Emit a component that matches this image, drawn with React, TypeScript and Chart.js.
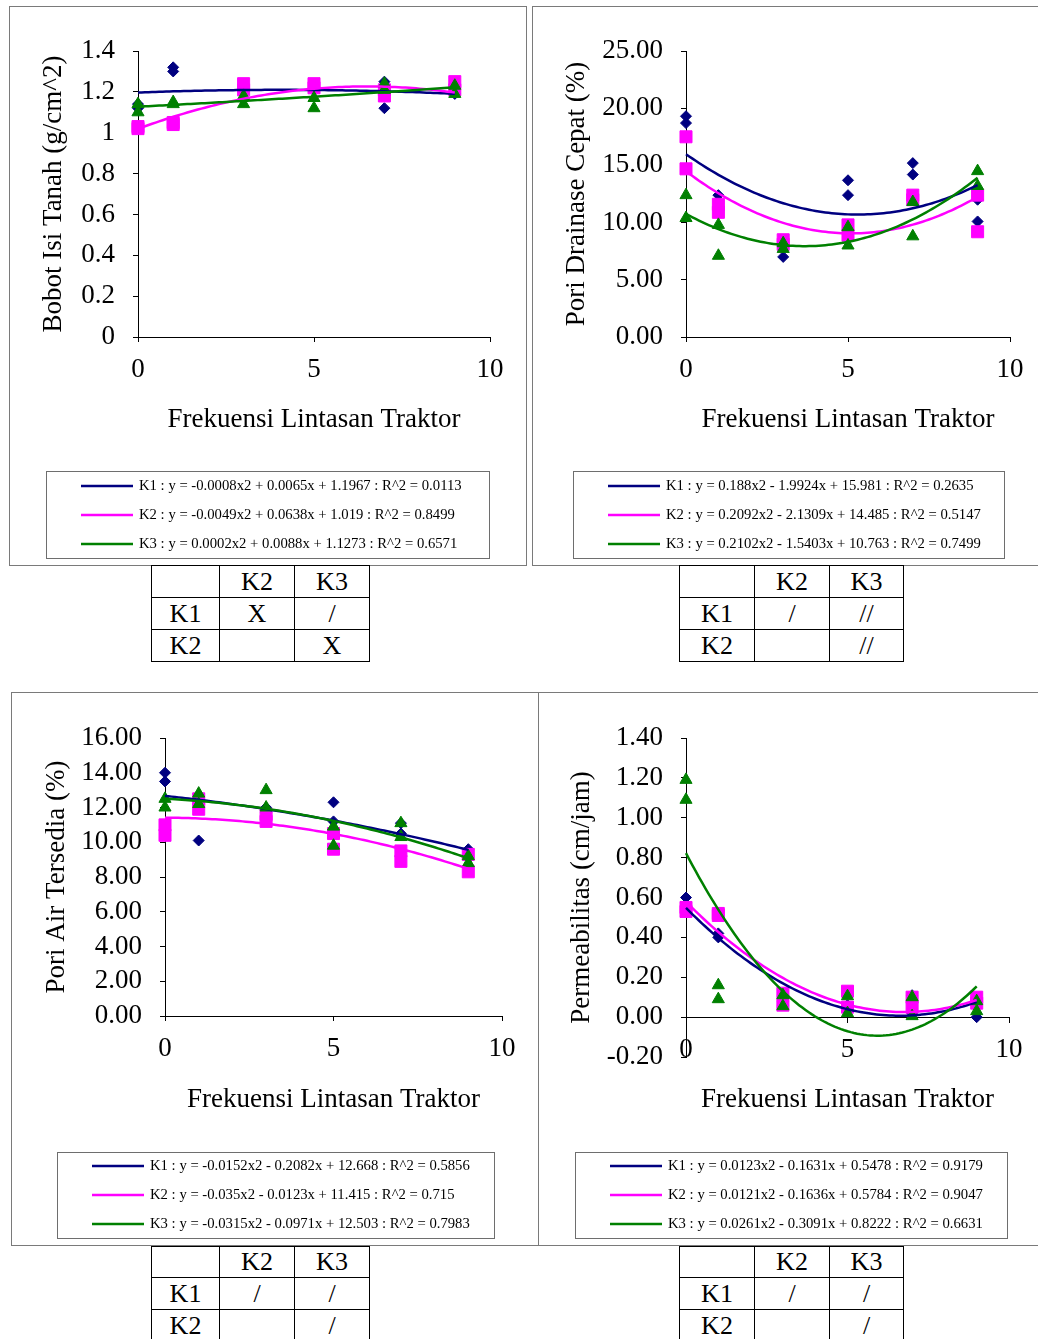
import React, { useEffect, useRef } from "react";
import { Chart, registerables } from "chart.js";
Chart.register(...registerables);

const FONT = '"Liberation Serif", "Times New Roman", Times, serif';
const NAVY = "#000080";
const MAGENTA = "#FF00FF";
const GREEN = "#008000";
const AXIS_FONT_SIZE = 27;
const LEGEND_FONT_SIZE = 14.7;
const TABLE_FONT_SIZE = 26;

// ---------- data ----------
const frekuensi = [0, 0, 1, 1, 3, 3, 5, 5, 7, 7, 9, 9];
const xTickValues = [0, 5, 10];
const xTickLabels = ["0", "5", "10"];
const xTitle = "Frekuensi Lintasan Traktor";

// Bobot Isi Tanah
const bobotK1 = [1.14, 1.12, 1.32, 1.3, 1.21, 1.2, 1.22, 1.21, 1.25, 1.12, 1.19, 1.21];
const bobotK2 = [1.03, 1.02, 1.05, 1.04, 1.24, 1.21, 1.24, 1.22, 1.21, 1.18, 1.25, 1.21];
const bobotK3 = [1.14, 1.1, 1.15, 1.14, 1.18, 1.14, 1.17, 1.12, 1.24, 1.21, 1.23, 1.19];
const bobotCoefK1 = [-0.0008, 0.0065, 1.1967];
const bobotCoefK2 = [-0.0049, 0.0638, 1.019];
const bobotCoefK3 = [0.0002, 0.0088, 1.1273];
const bobotYTicks = [0, 0.2, 0.4, 0.6, 0.8, 1, 1.2, 1.4];
const bobotYLabels = ["0", "0.2", "0.4", "0.6", "0.8", "1", "1.2", "1.4"];
const bobotLegend = [
  "K1 : y = -0.0008x2 + 0.0065x + 1.1967 : R^2 = 0.0113",
  "K2 : y = -0.0049x2 + 0.0638x + 1.019 : R^2 = 0.8499",
  "K3 : y = 0.0002x2 + 0.0088x + 1.1273 : R^2 = 0.6571",
];

// Pori Drainase Cepat
const drainaseK1 = [19.3, 18.7, 12.4, 11.3, 7.0, 7.8, 13.7, 12.4, 15.2, 14.2, 12.0, 10.1];
const drainaseK2 = [17.5, 14.7, 11.6, 10.9, 8.5, 8.1, 9.8, 8.9, 12.4, 12.0, 12.4, 9.2];
const drainaseK3 = [12.4, 10.4, 9.8, 7.1, 8.2, 7.7, 9.6, 8.0, 11.8, 8.8, 14.5, 13.2];
const drainaseCoefK1 = [0.188, -1.9924, 15.981];
const drainaseCoefK2 = [0.2092, -2.1309, 14.485];
const drainaseCoefK3 = [0.2102, -1.5403, 10.763];
const drainaseYTicks = [0, 5, 10, 15, 20, 25];
const drainaseYLabels = ["0.00", "5.00", "10.00", "15.00", "20.00", "25.00"];
const drainaseLegend = [
  "K1 : y = 0.188x2 - 1.9924x + 15.981 : R^2 = 0.2635",
  "K2 : y = 0.2092x2 - 2.1309x + 14.485 : R^2 = 0.5147",
  "K3 : y = 0.2102x2 - 1.5403x + 10.763 : R^2 = 0.7499",
];

// Pori Air Tersedia
const airK1 = [14.0, 13.5, 10.1, 12.4, 12.0, 11.7, 12.3, 11.2, 11.1, 10.5, 9.6, 9.1];
const airK2 = [11.0, 10.4, 12.5, 11.9, 11.6, 11.2, 10.5, 9.6, 9.5, 8.9, 9.3, 8.3];
const airK3 = [12.5, 12.0, 12.8, 12.2, 13.0, 12.0, 10.9, 9.8, 11.1, 10.3, 9.2, 8.8];
const airCoefK1 = [-0.0152, -0.2082, 12.668];
const airCoefK2 = [-0.035, -0.0123, 11.415];
const airCoefK3 = [-0.0315, -0.0971, 12.503];
const airYTicks = [0, 2, 4, 6, 8, 10, 12, 14, 16];
const airYLabels = ["0.00", "2.00", "4.00", "6.00", "8.00", "10.00", "12.00", "14.00", "16.00"];
const airLegend = [
  "K1 : y = -0.0152x2 - 0.2082x + 12.668 : R^2 = 0.5856",
  "K2 : y = -0.035x2 - 0.0123x + 11.415 : R^2 = 0.715",
  "K3 : y = -0.0315x2 - 0.0971x + 12.503 : R^2 = 0.7983",
];

// Permeabilitas
const permK1 = [0.6, 0.54, 0.42, 0.4, 0.08, 0.06, 0.06, 0.03, 0.11, 0.02, 0.07, 0.0];
const permK2 = [0.55, 0.53, 0.52, 0.51, 0.12, 0.06, 0.13, 0.05, 0.1, 0.05, 0.1, 0.07];
const permK3 = [1.19, 1.09, 0.16, 0.09, 0.11, 0.055, 0.105, 0.02, 0.1, 0.005, 0.08, 0.03];
const permCoefK1 = [0.0123, -0.1631, 0.5478];
const permCoefK2 = [0.0121, -0.1636, 0.5784];
const permCoefK3 = [0.0261, -0.3091, 0.8222];
const permYTicks = [-0.2, 0, 0.2, 0.4, 0.6, 0.8, 1.0, 1.2, 1.4];
const permYLabels = ["-0.20", "0.00", "0.20", "0.40", "0.60", "0.80", "1.00", "1.20", "1.40"];
const permLegend = [
  "K1 : y = 0.0123x2 - 0.1631x + 0.5478 : R^2 = 0.9179",
  "K2 : y = 0.0121x2 - 0.1636x + 0.5784 : R^2 = 0.9047",
  "K3 : y = 0.0261x2 - 0.3091x + 0.8222 : R^2 = 0.6631",
];

// significance tables
const tableHeader = ["", "K2", "K3"];
const tableRows = ["K1", "K2"];
const bobotTable = [["X", "/"], ["", "X"]];
const drainaseTable = [["/", "//"], ["", "//"]];
const airTable = [["/", "/"], ["", "/"]];
const permTable = [["/", "/"], ["", "/"]];

// ---------- helpers ----------
function trendCurve(c: number[]) {
  const pts: { x: number; y: number }[] = [];
  for (let i = 0; i <= 90; i++) {
    const x = i / 10;
    pts.push({ x, y: c[0] * x * x + c[1] * x + c[2] });
  }
  return pts;
}

function zeroPad(s: any) {
  s.paddingLeft = 0;
  s.paddingRight = 0;
  s.paddingTop = 0;
  s.paddingBottom = 0;
}

type Spec = {
  w: number;
  h: number;
  yTitle: string;
  yTicks: number[];
  yLabels: string[];
  yMin: number;
  yMax: number;
  yWidth: number;
  yTitleCenter: number;
  padTop: number;
  padRight: number;
  xHeight: number;
  xTitleCenter: number;
  xAtZero?: boolean;
  series: { values: number[]; coef: number[]; color: string; style: string; radius: number }[];
  legend: { x: number; y: number; w: number; h: number; rows: number[]; labels: string[] };
};

function legendPlugin(spec: Spec) {
  return {
    id: "boxLegend",
    afterDraw(chart: any) {
      const ctx = chart.ctx;
      const L = spec.legend;
      ctx.save();
      ctx.strokeStyle = "#6e6e6e";
      ctx.lineWidth = 1;
      ctx.strokeRect(L.x + 0.5, L.y + 0.5, L.w, L.h);
      L.labels.forEach((label, i) => {
        const y = L.y + L.rows[i];
        ctx.strokeStyle = spec.series[i].color;
        ctx.lineWidth = 2.5;
        ctx.beginPath();
        ctx.moveTo(L.x + 35, y);
        ctx.lineTo(L.x + 87, y);
        ctx.stroke();
        ctx.fillStyle = "#000";
        ctx.font = `${LEGEND_FONT_SIZE}px ${FONT}`;
        ctx.textAlign = "left";
        ctx.textBaseline = "middle";
        ctx.fillText(label, L.x + 93, y);
      });
      ctx.restore();
    },
  };
}

function buildConfig(spec: Spec): any {
  const datasets: any[] = [];
  const lineOrder = [2, 1, 0];
  const pointOrder = [5, 4, 3];
  const names = ["K1", "K2", "K3"];
  spec.series.forEach((s, i) => {
    datasets.push({
      label: names[i] + " trend",
      data: trendCurve(s.coef),
      showLine: true,
      borderColor: s.color,
      borderWidth: 2.5,
      pointRadius: 0,
      fill: false,
      tension: 0,
      order: lineOrder[i],
      clip: false,
    });
  });
  spec.series.forEach((s, i) => {
    datasets.push({
      label: names[i],
      data: frekuensi.map((x, j) => ({ x, y: s.values[j] })),
      showLine: false,
      pointStyle: s.style,
      pointRadius: s.radius,
      backgroundColor: s.color,
      borderColor: s.color,
      borderWidth: 1,
      order: pointOrder[i],
      clip: false,
    });
  });

  const tickFont = { family: FONT, size: AXIS_FONT_SIZE };
  const halfLine = (AXIS_FONT_SIZE * 1.2) / 2;
  const xTitlePadBottom = spec.h - spec.xTitleCenter - halfLine;
  const xTitleOpts = {
    display: true,
    text: xTitle,
    font: tickFont,
    color: "#000",
    padding: { top: 0, bottom: xTitlePadBottom },
  };
  const scales: any = {
    x: {
      type: "linear",
      min: 0,
      max: 10,
      position: spec.xAtZero ? { y: 0 } : "bottom",
      afterBuildTicks: (s: any) => {
        s.ticks = xTickValues.map((v) => ({ value: v }));
      },
      ticks: {
        callback: (_v: any, i: number) => xTickLabels[i],
        font: tickFont,
        color: "#000",
        padding: 11.5,
        maxRotation: 0,
        autoSkip: false,
      },
      grid: { drawOnChartArea: false, drawTicks: true, tickLength: 5, color: "#000" },
      border: { display: true, color: "#000", width: 1 },
      title: spec.xAtZero ? { display: false } : xTitleOpts,
      afterFit: (s: any) => {
        if (!spec.xAtZero) s.height = spec.xHeight;
        zeroPad(s);
      },
    },
    y: {
      type: "linear",
      min: spec.yMin,
      max: spec.yMax,
      position: "left",
      afterBuildTicks: (s: any) => {
        s.ticks = spec.yTicks.map((v) => ({ value: v }));
      },
      ticks: {
        callback: (_v: any, i: number) => spec.yLabels[i],
        font: tickFont,
        color: "#000",
        padding: 18,
        autoSkip: false,
      },
      grid: { drawOnChartArea: false, drawTicks: true, tickLength: 5, color: "#000" },
      border: { display: true, color: "#000", width: 1 },
      title: {
        display: true,
        text: spec.yTitle,
        font: tickFont,
        color: "#000",
        padding: { top: spec.yTitleCenter - halfLine, bottom: 0 },
      },
      afterFit: (s: any) => {
        s.width = spec.yWidth;
        zeroPad(s);
      },
    },
  };
  if (spec.xAtZero) {
    scales.xt = {
      type: "linear",
      min: 0,
      max: 10,
      position: "bottom",
      ticks: { display: false },
      grid: { display: false },
      border: { display: false },
      title: xTitleOpts,
      afterFit: (s: any) => {
        s.height = spec.xHeight;
        zeroPad(s);
      },
    };
  }

  return {
    type: "scatter",
    data: { datasets },
    options: {
      responsive: false,
      animation: false,
      events: [],
      layout: { padding: { left: 0, top: spec.padTop, right: spec.padRight, bottom: 0 } },
      plugins: { legend: { display: false }, tooltip: { enabled: false } },
      scales,
    },
    plugins: [legendPlugin(spec)],
  };
}

function ChartCanvas({ spec }: { spec: Spec }) {
  const ref = useRef<HTMLCanvasElement | null>(null);
  useEffect(() => {
    if (!ref.current) return;
    const chart = new Chart(ref.current, buildConfig(spec));
    return () => chart.destroy();
  }, [spec]);
  return (
    <canvas
      ref={ref}
      width={spec.w}
      height={spec.h}
      style={{ position: "absolute", left: 0, top: 0, width: spec.w, height: spec.h, display: "block" }}
    />
  );
}

function Panel({ left, top, width, height, spec }: any) {
  return (
    <div
      style={{
        position: "absolute",
        left,
        top,
        width,
        height,
        boxSizing: "border-box",
        border: "1px solid #7a7a7a",
        background: "#fff",
      }}
    >
      <ChartCanvas spec={spec} />
    </div>
  );
}

function SigTable({ cols, rows, marks }: { cols: number[]; rows: number[]; marks: string[][] }) {
  const cells: any[] = [];
  for (let r = 0; r < 3; r++) {
    for (let c = 0; c < 3; c++) {
      let text = "";
      if (r === 0) text = tableHeader[c];
      else if (c === 0) text = tableRows[r - 1];
      else text = marks[r - 1][c - 1];
      cells.push(
        <div
          key={r + "-" + c}
          style={{
            position: "absolute",
            left: cols[c],
            top: rows[r],
            width: cols[c + 1] - cols[c] + 1,
            height: rows[r + 1] - rows[r] + 1,
            boxSizing: "border-box",
            border: "1px solid #000",
            display: "flex",
            alignItems: "center",
            justifyContent: "center",
            fontFamily: FONT,
            fontSize: TABLE_FONT_SIZE,
            color: "#000",
            lineHeight: 1,
            background: "#fff",
          }}
        >
          {text}
        </div>
      );
    }
  }
  return <>{cells}</>;
}

const seriesOf = (a: number[], b: number[], c: number[], ca: number[], cb: number[], cc: number[]) => [
  { values: a, coef: ca, color: NAVY, style: "rectRot", radius: 5.5 },
  { values: b, coef: cb, color: MAGENTA, style: "rect", radius: 8.5 },
  { values: c, coef: cc, color: GREEN, style: "triangle", radius: 7 },
];

const spec1: Spec = {
  w: 516,
  h: 558,
  yTitle: "Bobot Isi Tanah (g/cm^2)",
  yTicks: bobotYTicks,
  yLabels: bobotYLabels,
  yMin: 0,
  yMax: 1.4,
  yWidth: 128,
  yTitleCenter: 44,
  padTop: 44,
  padRight: 36,
  xHeight: 228,
  xTitleCenter: 413,
  series: seriesOf(bobotK1, bobotK2, bobotK3, bobotCoefK1, bobotCoefK2, bobotCoefK3),
  legend: { x: 36, y: 464, w: 443, h: 87, rows: [15, 44, 73], labels: bobotLegend },
};

const spec2: Spec = {
  w: 505,
  h: 558,
  yTitle: "Pori Drainase Cepat (%)",
  yTicks: drainaseYTicks,
  yLabels: drainaseYLabels,
  yMin: 0,
  yMax: 25,
  yWidth: 153,
  yTitleCenter: 44,
  padTop: 44,
  padRight: 28,
  xHeight: 228,
  xTitleCenter: 413,
  series: seriesOf(drainaseK1, drainaseK2, drainaseK3, drainaseCoefK1, drainaseCoefK2, drainaseCoefK3),
  legend: { x: 40, y: 464, w: 431, h: 87, rows: [15, 44, 73], labels: drainaseLegend },
};

const spec3: Spec = {
  w: 526,
  h: 552,
  yTitle: "Pori Air Tersedia (%)",
  yTicks: airYTicks,
  yLabels: airYLabels,
  yMin: 0,
  yMax: 16,
  yWidth: 153,
  yTitleCenter: 45,
  padTop: 45,
  padRight: 36,
  xHeight: 229,
  xTitleCenter: 407,
  series: seriesOf(airK1, airK2, airK3, airCoefK1, airCoefK2, airCoefK3),
  legend: { x: 45, y: 459, w: 437, h: 86, rows: [14, 43, 72], labels: airLegend },
};

const spec4: Spec = {
  w: 499,
  h: 552,
  yTitle: "Permeabilitas (cm/jam)",
  yTicks: permYTicks,
  yLabels: permYLabels,
  yMin: -0.2,
  yMax: 1.4,
  yWidth: 147,
  yTitleCenter: 43,
  padTop: 45,
  padRight: 29,
  xHeight: 188,
  xTitleCenter: 407,
  xAtZero: true,
  series: seriesOf(permK1, permK2, permK3, permCoefK1, permCoefK2, permCoefK3),
  legend: { x: 36, y: 459, w: 432, h: 86, rows: [14, 43, 72], labels: permLegend },
};

export default function App() {
  return (
    <div
      style={{
        position: "absolute",
        left: 0,
        top: 0,
        width: 1038,
        height: 1339,
        overflow: "hidden",
        background: "#fff",
      }}
    >
      <Panel left={9} top={6} width={518} height={560} spec={spec1} />
      <Panel left={532} top={6} width={520} height={560} spec={spec2} />
      <Panel left={11} top={692} width={528} height={554} spec={spec3} />
      <Panel left={538} top={692} width={520} height={554} spec={spec4} />
      <SigTable cols={[151, 219, 294, 369]} rows={[565, 597, 629, 661]} marks={bobotTable} />
      <SigTable cols={[679, 754, 829, 903]} rows={[565, 597, 629, 661]} marks={drainaseTable} />
      <SigTable cols={[151, 219, 294, 369]} rows={[1246, 1277, 1309, 1341]} marks={airTable} />
      <SigTable cols={[679, 754, 829, 903]} rows={[1246, 1277, 1309, 1341]} marks={permTable} />
    </div>
  );
}
